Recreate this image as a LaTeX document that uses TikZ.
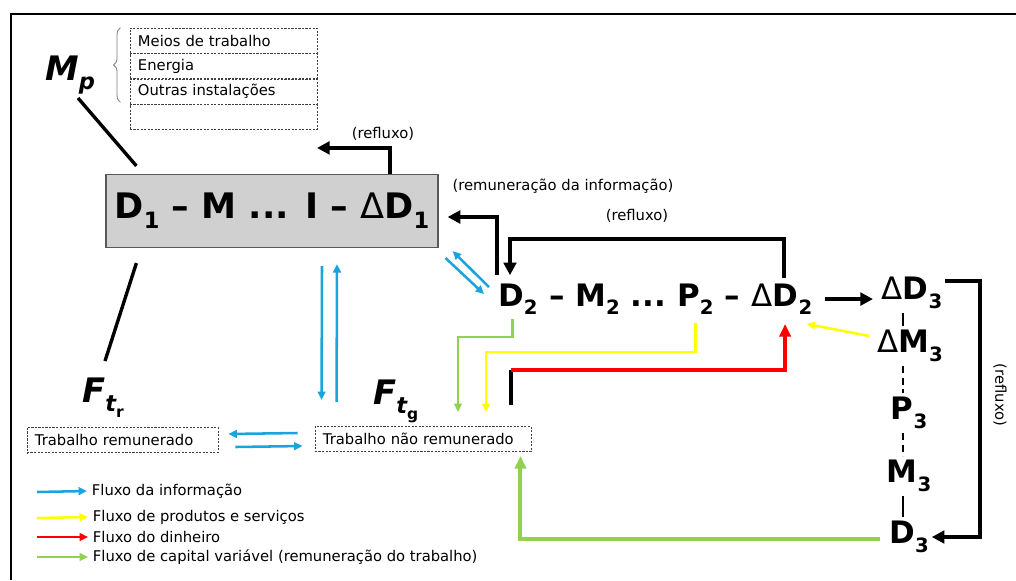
\documentclass[tikz,border=0pt]{standalone}
\usepackage{fontspec}
\setmainfont{DejaVu Sans}
\usetikzlibrary{arrows.meta,calc,decorations.pathreplacing}

\definecolor{infoblue}{HTML}{1AA3DC}
\definecolor{prodyellow}{HTML}{FFFF00}
\definecolor{cashred}{HTML}{FF0000}
\definecolor{capgreen}{HTML}{92D050}
\definecolor{boxgray}{HTML}{D0D0D0}

\newcommand{\subx}[2]{\raisebox{-0.28em}{\fontsize{#1}{#1}\selectfont #2}}
\newcommand{\dlt}{{\mdseries Δ}}
\newcommand{\gap}{\kern0.35em}

\tikzset{
  smalltxt/.style={font=\fontsize{10.5}{12}\selectfont},
  bigital/.style={font=\fontsize{24}{28}\selectfont\bfseries\itshape, inner sep=0pt, anchor=base west},
  formula/.style={font=\fontsize{22}{26}\selectfont\bfseries, inner sep=0pt, anchor=base west},
  formula3/.style={font=\fontsize{22}{26}\selectfont\bfseries, inner sep=2pt},
  cell/.style={draw=black!75, dash pattern=on 1.5pt off 1pt, line width=0.6pt,
    minimum width=4.675cm, minimum height=0.625cm, text width=4.275cm,
    inner xsep=0.2cm, align=left, smalltxt},
  dashbox/.style={draw=black!75, dash pattern=on 1.5pt off 1pt, line width=0.6pt,
    minimum height=0.63cm, inner xsep=0.2cm, align=left, smalltxt},
  circbox/.style={draw=black!65, fill=boxgray, line width=0.8pt,
    minimum width=8.3cm, minimum height=1.825cm,
    font=\fontsize{25}{29}\selectfont\bfseries},
  blkline/.style={line width=2.4pt},
  blkarrow/.style={line width=2.4pt, -{Triangle[length=9pt,width=9pt]}},
  linkline/.style={line width=1.8pt, shorten <=1pt, shorten >=1pt},
  infoarrow/.style={infoblue, line width=1.8pt, -{Triangle[length=6pt,width=5.5pt]}},
  prodarrow/.style={prodyellow, line width=1.8pt, -{Triangle[length=6pt,width=5.5pt]}},
  capline/.style={capgreen, line width=1.8pt, -{Triangle[length=6pt,width=5.5pt]}},
  capthick/.style={capgreen, line width=2.8pt, -{Triangle[length=9pt,width=8pt]}},
  cashline/.style={cashred, line width=2.8pt, -{Triangle[length=9pt,width=8pt]}}
}

\begin{document}
\begin{tikzpicture}[x=0.025cm,y=-0.025cm]
  \useasboundingbox (0,0) rectangle (1016,580);
  \draw[line width=2pt] (11,580) -- (11,14) -- (1016,14);

  % meios de producao
  \node[bigital] (mp) at (45,80) {M\subx{16}{p}};
  \node[cell] (row1) at (223.5,40.5) {Meios de trabalho};
  \node[cell] (row2) at (223.5,66) {Energia};
  \node[cell] (row3) at (223.5,91.5) {Outras instalações};
  \node[cell] (row4) at (223.5,117) {};
  \draw[gray, line width=0.6pt, decorate, decoration={brace,amplitude=5pt}]
    ($(row3.south west)+(-9,-2)$) -- ($(row1.north west)+(-9,0)$);

  % primeiro circuito
  \node[circbox] (circ1) at (272,211) {D\subx{16}{1} – M ... I – \dlt D\subx{16}{1}};
  \draw[blkline] ($(mp.base west)+(33,18)$) -- ($(circ1.north west)+(31,-8)$);
  \node[smalltxt] (rf1) at (383,134) {(refluxo)};
  \draw[blkarrow] ($(circ1.north)+(118,0)$) |- ($(circ1.north)+(45,-26)$);

  % segundo circuito
  \node[formula] (d2) at (498,306) {D\subx{14}{2}};
  \node[formula] (m2) at (d2.base east) {\gap– M\subx{14}{2} ...\gap};
  \node[formula] (p2) at (m2.base east) {P\subx{14}{2}};
  \node[formula] (s2) at (p2.base east) {\gap–\gap};
  \node[formula] (dd2) at (s2.base east) {\dlt D\subx{14}{2}};
  \node[smalltxt] (rem) at (563,186) {(remuneração da informação)};
  \node[smalltxt] (rf2) at (637,216) {(refluxo)};
  \draw[blkarrow] ($(d2.north west)+(-1,-8)$) |- ($(circ1.east)+(9,6)$);
  \draw[blkarrow] ($(dd2.north)+(2,-5)$) |- ($(d2.north)+(-8,-44)$) -- ($(d2.north)+(-8,-8)$);

  % terceiro circuito
  \node[formula3] (dd3) at (912,293) {\dlt D\subx{14}{3}};
  \node[formula3] (dm3) at (910,346) {\dlt M\subx{14}{3}};
  \node[formula3] (p3) at (909,413) {P\subx{14}{3}};
  \node[formula3] (m3) at (909,476) {M\subx{14}{3}};
  \node[formula3] (d3) at (909,537) {D\subx{14}{3}};
  \coordinate (axis) at (903,0);
  \draw[linkline] (dd3.south -| axis) -- (dm3.north -| axis);
  \draw[linkline, dash pattern=on 5pt off 3pt] (dm3.south -| axis) -- (p3.north -| axis);
  \draw[linkline, dash pattern=on 5pt off 3pt] (p3.south -| axis) -- (m3.north -| axis);
  \draw[linkline] (m3.south -| axis) -- (d3.north -| axis);
  \draw[blkarrow, shorten <=9pt, shorten >=4pt] (dd2.east) -- (dd2.east -| dd3.west);
  \coordinate (rf3) at (980,281);
  \draw[blkarrow] (dd3.east |- rf3) -- (rf3) |- (d3.east);
  \node[smalltxt, rotate=-90] (rf3t) at (1000,395) {(refluxo)};
  \draw[prodarrow] ($(dm3.west)+(-5,-10)$) -- ($(dd2.south east)+(-6,9)$);

  % forca de trabalho
  \node[bigital] (ftr) at (82,402) {F\subx{16}{t\subx{11}{\upshape r}}};
  \node[bigital] (ftg) at (373,404) {F\subx{16}{t\subx{11}{\upshape g}}};
  \draw[blkline] ($(circ1.south west)+(31,15)$) -- ($(ftr.base west)+(23,-41)$);
  \node[dashbox, minimum width=4.775cm, text width=4.375cm] (tr) at (122.5,440) {Trabalho remunerado};
  \node[dashbox, minimum width=5.4cm, text width=5.0cm] (tng) at (423,439) {Trabalho não remunerado};

  % fluxos
  \draw[infoarrow] ($(circ1.south)+(50,18)$) -- ($(tng.north west)+(7,-26)$);
  \draw[infoarrow] ($(tng.north west)+(22,-24)$) -- ($(circ1.south)+(65,16)$);
  \draw[infoarrow] ($(d2.west)+(-9,-12)$) -- ($(circ1.south east)+(14,3)$);
  \draw[infoarrow] ($(circ1.south east)+(7,10)$) -- ($(d2.west)+(-14,-5)$);
  \draw[infoarrow] ($(tng.west)+(-17,-6)$) -- ($(tr.east)+(10,-6)$);
  \draw[infoarrow] ($(tr.east)+(17,7)$) -- ($(tng.west)+(-12,7)$);
  \coordinate (gc) at (458,337);
  \draw[capline] ([xshift=-4pt,yshift=-3pt]d2.south) |- (gc) -- ($(tng.north)+(35,-14)$);
  \coordinate (yc) at (486,352);
  \draw[prodarrow] ([yshift=-6pt]p2.south) |- (yc) -- ($(tng.north)+(63,-14)$);
  \coordinate (rc) at (511,370);
  \draw[blkline] ($(tng.north)+(88,-21)$) -- (rc);
  \draw[cashline] (rc) -| ($(dd2.south)+(3,9)$);
  \draw[capthick] ($(d3.west)+(-6,2)$) -| ($(tng.south east)+(-11,4)$);

  % legenda
  \coordinate (lg1) at (37,492);
  \coordinate (lg2) at (37,518);
  \coordinate (lg3) at (37,537);
  \coordinate (lg4) at (37,557);
  \node[smalltxt, anchor=west] (lt1) at (87,491) {Fluxo da informação};
  \node[smalltxt, anchor=west] (lt2) at (88,517) {Fluxo de produtos e serviços};
  \node[smalltxt, anchor=west] (lt3) at (88,537) {Fluxo do dinheiro};
  \node[smalltxt, anchor=west] (lt4) at (88,557) {Fluxo de capital variável (remuneração do trabalho)};
  \draw[infoarrow] (lg1) -- (lt1.west);
  \draw[prodarrow] (lg2) -- (lt2.west);
  \draw[cashline, line width=1.8pt, -{Triangle[length=6pt,width=5.5pt]}] (lg3) -- (lt3.west);
  \draw[capline] (lg4) -- (lt4.west);
\end{tikzpicture}
\end{document}
